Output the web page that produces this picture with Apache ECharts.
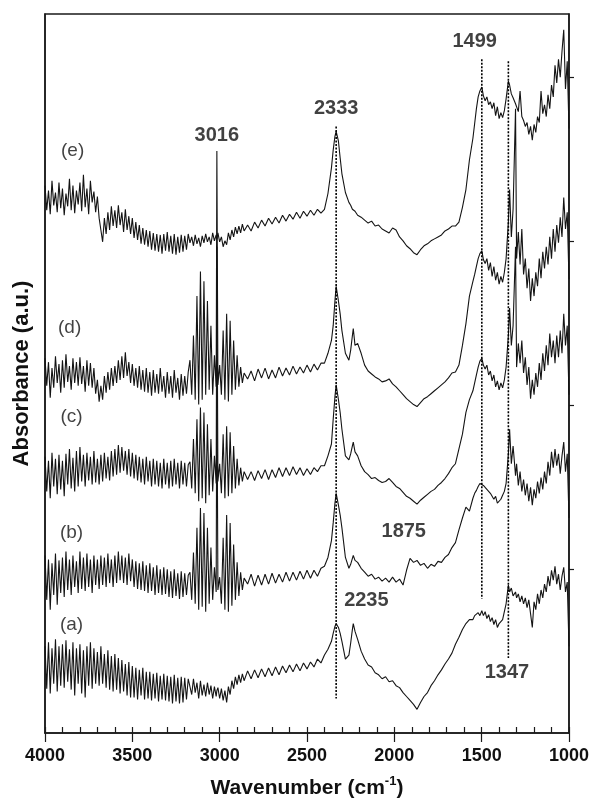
<!DOCTYPE html>
<html>
<head>
<meta charset="utf-8">
<title>IR spectra</title>
<script src="https://cdn.jsdelivr.net/npm/echarts@6/dist/echarts.min.js"></script>
<style>
  html, body { margin: 0; padding: 0; background: #ffffff; }
  #chart { width: 592px; height: 806px; }
</style>
</head>
<body>
<div id="chart"></div>
<script>
// Wavenumber grid (cm-1), shared by all five spectra.
const wavenumber = [
  4000, 3990, 3980, 3970, 3960, 3950, 3940, 3930, 3920, 3910,
  3900, 3890, 3880, 3870, 3860, 3850, 3840, 3830, 3820, 3810,
  3800, 3790, 3780, 3770, 3760, 3750, 3740, 3730, 3720, 3710,
  3700, 3690, 3680, 3670, 3660, 3650, 3640, 3630, 3620, 3610,
  3600, 3590, 3580, 3570, 3560, 3550, 3540, 3530, 3520, 3510,
  3500, 3490, 3480, 3470, 3460, 3450, 3440, 3430, 3420, 3410,
  3400, 3390, 3380, 3370, 3360, 3350, 3340, 3330, 3320, 3310,
  3300, 3290, 3280, 3270, 3260, 3250, 3240, 3230, 3220, 3210,
  3200, 3190, 3180,
  3170, 3160, 3150, 3140, 3130, 3120, 3110, 3100, 3090, 3080, 3070, 3060, 3050, 3040, 3030, 3020, 3016, 3010, 3000, 2990, 2980,
  2970, 2960, 2950, 2940, 2930, 2920, 2910, 2900, 2890, 2880, 2870, 2860,
  2840, 2820, 2800, 2780, 2760, 2740, 2720, 2700, 2680, 2660, 2640, 2620, 2600, 2580, 2560, 2540, 2520, 2500, 2480, 2460, 2440, 2420,
  2400, 2380, 2360, 2350, 2340, 2333, 2320, 2310, 2300, 2280, 2260, 2250, 2240, 2235, 2225, 2210, 2190,
  2170, 2150, 2130, 2110, 2090, 2070, 2050, 2030, 2010, 1990, 1970, 1950, 1930, 1910, 1890, 1870, 1850, 1830, 1810, 1790, 1770,
  1750, 1730, 1710, 1690, 1670, 1650, 1630, 1610, 1590, 1570,
  1550, 1540, 1530, 1520, 1510, 1499, 1490, 1480, 1470, 1460, 1450, 1440, 1430, 1420, 1410, 1400, 1390, 1380, 1370, 1360, 1347,
  1340, 1330, 1320, 1306, 1300, 1290, 1280, 1270, 1260, 1250, 1240, 1230, 1220, 1210, 1200, 1190, 1180, 1170, 1160, 1150, 1140,
  1130, 1120, 1110, 1100, 1090, 1080, 1070, 1060, 1050, 1040, 1030, 1020, 1010, 1000
];

// Absorbance (a.u., stacked) of each spectrum on the grid above.
const spectrumA = [
  0.88, 0.45, 0.92, 0.40, 0.86, 0.50, 0.95, 0.42, 0.88, 0.48,
  0.90, 0.46, 0.94, 0.52, 0.85, 0.44, 0.92, 0.38, 0.86, 0.50,
  0.90, 0.40, 0.84, 0.36, 0.88, 0.48, 0.92, 0.45, 0.86, 0.50,
  0.82, 0.48, 0.88, 0.50, 0.80, 0.46, 0.84, 0.44, 0.78, 0.42,
  0.80, 0.44, 0.76, 0.40, 0.74, 0.42, 0.70, 0.38, 0.72, 0.36,
  0.68, 0.36, 0.66, 0.34, 0.64, 0.38, 0.66, 0.34, 0.62, 0.35,
  0.62, 0.33, 0.60, 0.35, 0.61, 0.32, 0.58, 0.34, 0.60, 0.33,
  0.58, 0.32, 0.57, 0.30, 0.59, 0.32, 0.56, 0.30, 0.57, 0.31,
  0.56, 0.34, 0.55,
  0.53, 0.39, 0.55, 0.41, 0.51, 0.35, 0.53, 0.38, 0.49, 0.37, 0.51, 0.39, 0.48, 0.35, 0.47, 0.37, 0.43, 0.46, 0.35, 0.45, 0.33,
  0.43, 0.31, 0.47, 0.39, 0.53, 0.45, 0.57, 0.49, 0.59, 0.51, 0.60, 0.53,
  0.63, 0.55, 0.64, 0.56, 0.65, 0.57, 0.66, 0.58, 0.67, 0.59, 0.68, 0.61, 0.69, 0.62, 0.70, 0.63, 0.71, 0.65, 0.72, 0.67, 0.75, 0.71,
  0.79, 0.85, 0.93, 1.01, 1.08, 1.11, 1.07, 1.01, 0.93, 0.75, 0.79, 0.91, 1.05, 1.11, 1.03, 0.95, 0.83,
  0.75, 0.69, 0.67, 0.61, 0.59, 0.55, 0.57, 0.52, 0.53, 0.48, 0.46, 0.41, 0.37, 0.33, 0.29, 0.24, 0.31, 0.37, 0.41, 0.48, 0.53,
  0.59, 0.64, 0.70, 0.75, 0.81, 0.90, 0.97, 1.05, 1.11, 1.15,
  1.15, 1.19, 1.17, 1.22, 1.19, 1.24, 1.19, 1.23, 1.16, 1.20, 1.13, 1.17, 1.10, 1.15, 1.07, 1.11, 1.13, 1.15, 1.23, 1.31, 1.50,
  1.43, 1.47, 1.39, 1.43, 1.37, 1.41, 1.33, 1.39, 1.31, 1.37, 1.27, 1.35, 1.21, 1.07, 1.33, 1.25, 1.41, 1.31, 1.45, 1.37, 1.51,
  1.43, 1.59, 1.49, 1.65, 1.55, 1.69, 1.51, 1.61, 1.45, 1.59, 1.68, 1.43, 1.53, 0.88
];
const spectrumB = [
  1.80, 1.35, 1.76, 1.25, 1.72, 1.40, 1.82, 1.30, 1.75, 1.42,
  1.78, 1.38, 1.84, 1.45, 1.76, 1.40, 1.80, 1.48, 1.74, 1.42,
  1.84, 1.46, 1.78, 1.44, 1.82, 1.48, 1.76, 1.42, 1.80, 1.50,
  1.76, 1.46, 1.80, 1.50, 1.78, 1.48, 1.82, 1.52, 1.76, 1.48,
  1.80, 1.52, 1.84, 1.55, 1.80, 1.52, 1.78, 1.50, 1.82, 1.54,
  1.76, 1.48, 1.74, 1.46, 1.72, 1.45, 1.74, 1.44, 1.70, 1.42,
  1.72, 1.44, 1.68, 1.40, 1.70, 1.42, 1.66, 1.40, 1.68, 1.41,
  1.66, 1.38, 1.64, 1.37, 1.66, 1.39, 1.62, 1.36, 1.64, 1.38,
  1.62, 1.40, 1.60,
  1.63, 1.35, 1.83, 1.31, 2.08, 1.25, 2.28, 1.28, 2.23, 1.23, 2.08, 1.31, 1.88, 1.35, 1.68, 1.43, 3.78, 1.45, 1.58, 1.31, 1.98,
  1.25, 2.21, 1.23, 2.13, 1.29, 1.91, 1.35, 1.73, 1.39, 1.63, 1.45, 1.57,
  1.51, 1.61, 1.49, 1.60, 1.50, 1.61, 1.51, 1.62, 1.52, 1.61, 1.53, 1.63, 1.54, 1.63, 1.55, 1.64, 1.56, 1.65, 1.57, 1.65, 1.59, 1.67,
  1.69, 1.78, 1.95, 2.13, 2.33, 2.43, 2.31, 2.21, 2.08, 1.78, 1.67, 1.71, 1.77, 1.80, 1.75, 1.73, 1.67,
  1.63, 1.59, 1.61, 1.56, 1.58, 1.54, 1.57, 1.53, 1.58, 1.53, 1.56, 1.50, 1.65, 1.77, 1.73, 1.75, 1.70, 1.72, 1.67, 1.71, 1.69,
  1.74, 1.73, 1.78, 1.81, 1.88, 1.93, 2.06, 2.18, 2.29, 2.25,
  2.38, 2.43, 2.46, 2.50, 2.53, 2.55, 2.51, 2.53, 2.47, 2.49, 2.43, 2.45, 2.37, 2.40, 2.33, 2.31, 2.37, 2.41, 2.45, 2.53, 2.83,
  3.08, 2.73, 2.91, 2.61, 2.73, 2.51, 2.65, 2.45, 2.57, 2.41, 2.53, 2.35, 2.49, 2.31, 2.47, 2.38, 2.55, 2.43, 2.59, 2.47, 2.65,
  2.53, 2.75, 2.61, 2.85, 2.69, 2.88, 2.71, 2.83, 2.63, 2.81, 2.95, 2.65, 2.83, 2.18
];
const spectrumC = [
  2.80, 2.45, 2.76, 2.38, 2.84, 2.50, 2.78, 2.42, 2.82, 2.47,
  2.76, 2.40, 2.83, 2.52, 2.88, 2.48, 2.79, 2.45, 2.86, 2.50,
  2.90, 2.55, 2.82, 2.50, 2.84, 2.56, 2.80, 2.52, 2.86, 2.54,
  2.78, 2.52, 2.82, 2.55, 2.84, 2.58, 2.80, 2.56, 2.86, 2.60,
  2.88, 2.62, 2.92, 2.64, 2.90, 2.66, 2.86, 2.62, 2.88, 2.60,
  2.84, 2.58, 2.82, 2.56, 2.80, 2.54, 2.78, 2.52, 2.80, 2.55,
  2.76, 2.50, 2.78, 2.52, 2.76, 2.50, 2.74, 2.48, 2.78, 2.52,
  2.74, 2.48, 2.76, 2.50, 2.78, 2.52, 2.74, 2.48, 2.76, 2.52,
  2.74, 2.50, 2.72,
  2.75, 2.48, 2.98, 2.43, 3.18, 2.35, 3.30, 2.38, 3.25, 2.33, 3.13, 2.41, 2.98, 2.45, 2.81, 2.53, 4.93, 2.55, 2.73, 2.43, 3.03,
  2.38, 3.11, 2.40, 3.05, 2.43, 2.91, 2.48, 2.78, 2.51, 2.69, 2.55, 2.65,
  2.57, 2.65, 2.56, 2.66, 2.58, 2.67, 2.57, 2.67, 2.59, 2.69, 2.60, 2.69, 2.61, 2.70, 2.62, 2.69, 2.61, 2.68, 2.62, 2.69, 2.65, 2.71,
  2.71, 2.81, 2.93, 3.18, 3.41, 3.53, 3.38, 3.25, 3.08, 2.81, 2.77, 2.83, 2.91, 2.95, 2.85, 2.81, 2.71,
  2.65, 2.62, 2.58, 2.59, 2.56, 2.54, 2.55, 2.58, 2.54, 2.50, 2.48, 2.44, 2.40, 2.38, 2.35, 2.32, 2.36, 2.39, 2.42, 2.45, 2.47,
  2.51, 2.54, 2.58, 2.63, 2.69, 2.73, 2.88, 3.03, 3.25, 3.38,
  3.47, 3.55, 3.63, 3.71, 3.77, 3.80, 3.73, 3.69, 3.73, 3.63, 3.67, 3.57, 3.63, 3.51, 3.57, 3.48, 3.55, 3.50, 3.58, 3.71, 4.03,
  4.31, 3.93, 4.13, 4.93, 3.71, 3.95, 3.75, 3.98, 3.65, 3.81, 3.53, 3.71, 3.39, 3.58, 3.43, 3.65, 3.51, 3.75, 3.58, 3.85, 3.67,
  3.93, 3.73, 4.05, 3.81, 3.98, 3.75, 4.03, 3.81, 4.08, 3.85, 4.25, 3.93, 4.13, 3.43
];
const spectrumD = [
  3.80, 3.52, 3.76, 3.40, 3.70, 3.50, 3.82, 3.55, 3.74, 3.45,
  3.78, 3.50, 3.84, 3.56, 3.72, 3.48, 3.80, 3.55, 3.76, 3.52,
  3.81, 3.54, 3.72, 3.46, 3.78, 3.52, 3.75, 3.50, 3.70, 3.44,
  3.58, 3.36, 3.52, 3.38, 3.62, 3.45, 3.66, 3.48, 3.70, 3.52,
  3.72, 3.55, 3.78, 3.58, 3.82, 3.60, 3.86, 3.62, 3.76, 3.55,
  3.74, 3.52, 3.70, 3.50, 3.72, 3.48, 3.68, 3.46, 3.70, 3.45,
  3.66, 3.42, 3.68, 3.45, 3.64, 3.44, 3.70, 3.46, 3.62, 3.40,
  3.66, 3.44, 3.62, 3.40, 3.68, 3.45, 3.60, 3.38, 3.64, 3.42,
  3.62, 3.44, 3.66,
  3.78, 3.43, 4.03, 3.38, 4.43, 3.33, 4.68, 3.38, 4.58, 3.43, 4.38, 3.48, 4.13, 3.43, 3.83, 3.51, 5.90, 3.53, 3.73, 3.43, 4.08,
  3.38, 4.25, 3.36, 4.18, 3.43, 3.98, 3.48, 3.83, 3.51, 3.71, 3.55, 3.65,
  3.59, 3.67, 3.57, 3.69, 3.60, 3.70, 3.59, 3.68, 3.60, 3.71, 3.62, 3.70, 3.63, 3.72, 3.64, 3.71, 3.65, 3.73, 3.66, 3.74, 3.68, 3.75,
  3.75, 3.85, 3.98, 4.13, 4.38, 4.53, 4.38, 4.25, 4.08, 3.85, 3.78, 3.88, 4.03, 4.10, 3.93, 3.95, 3.85,
  3.73, 3.67, 3.64, 3.61, 3.59, 3.56, 3.57, 3.59, 3.54, 3.51, 3.47, 3.43, 3.39, 3.36, 3.33, 3.31, 3.35, 3.39, 3.41, 3.44, 3.47,
  3.50, 3.53, 3.56, 3.60, 3.65, 3.66, 3.73, 3.93, 4.15, 4.43,
  4.58, 4.65, 4.73, 4.81, 4.86, 4.89, 4.80, 4.76, 4.81, 4.69, 4.77, 4.63, 4.73, 4.59, 4.67, 4.55, 4.63, 4.57, 4.67, 4.81, 5.18,
  5.51, 5.03, 5.31, 6.33, 4.81, 5.08, 4.75, 5.11, 4.65, 4.81, 4.51, 4.71, 4.38, 4.61, 4.43, 4.67, 4.53, 4.81, 4.61, 4.88, 4.71,
  4.93, 4.75, 5.03, 4.81, 5.11, 4.88, 5.15, 4.97, 5.23, 5.03, 5.43, 5.11, 5.28, 4.60
];
const spectrumE = [
  5.55, 5.30, 5.50, 5.26, 5.60, 5.35, 5.48, 5.28, 5.58, 5.32,
  5.52, 5.25, 5.47, 5.34, 5.62, 5.30, 5.55, 5.27, 5.50, 5.36,
  5.58, 5.29, 5.66, 5.33, 5.52, 5.26, 5.60, 5.38, 5.49, 5.28,
  5.44, 5.22, 5.10, 4.98, 5.22, 5.06, 5.28, 5.10, 5.34, 5.14,
  5.30, 5.12, 5.35, 5.15, 5.28, 5.08, 5.31, 5.10, 5.24, 5.06,
  5.22, 5.02, 5.18, 5.00, 5.15, 4.96, 5.12, 4.95, 5.10, 4.93,
  5.09, 4.90, 5.07, 4.89, 5.06, 4.88, 5.05, 4.86, 5.06, 4.89,
  5.08, 4.88, 5.04, 4.86, 5.06, 4.85, 5.03, 4.87, 5.05, 4.88,
  5.04, 4.90, 5.06,
  4.97, 5.03, 4.94, 5.05, 4.96, 5.02, 4.93, 5.04, 4.97, 5.06, 4.98, 5.03, 4.95, 5.07, 4.99, 5.05, 5.01, 5.07, 4.98, 5.03, 4.93,
  4.99, 4.95, 5.07, 5.00, 5.10, 5.03, 5.13, 5.06, 5.14, 5.07, 5.16, 5.09,
  5.15, 5.09, 5.18, 5.12, 5.20, 5.14, 5.22, 5.16, 5.23, 5.17, 5.25, 5.19, 5.26, 5.21, 5.28, 5.22, 5.29, 5.24, 5.30, 5.25, 5.31, 5.27,
  5.31, 5.47, 5.73, 5.91, 6.05, 6.10, 6.00, 5.83, 5.67, 5.48, 5.38, 5.35, 5.31, 5.30, 5.29, 5.25, 5.23,
  5.20, 5.17, 5.19, 5.14, 5.15, 5.11, 5.09, 5.07, 5.12, 5.10, 5.03, 4.99, 4.94, 4.91, 4.87, 4.85, 4.90, 4.94, 4.96, 4.99, 5.01,
  5.03, 5.05, 5.09, 5.11, 5.14, 5.14, 5.18, 5.33, 5.51, 5.81,
  6.03, 6.18, 6.33, 6.45, 6.51, 6.55, 6.46, 6.41, 6.45, 6.37, 6.40, 6.33, 6.39, 6.26, 6.35, 6.23, 6.29, 6.24, 6.31, 6.43, 6.61,
  6.57, 6.48, 6.44, 6.38, 6.35, 6.30, 6.51, 6.25, 6.21, 6.15, 6.19, 6.07, 6.15, 6.01, 6.17, 6.09, 6.25, 6.19, 6.51, 6.28, 6.37,
  6.25, 6.47, 6.33, 6.57, 6.45, 6.77, 6.59, 6.83, 6.65, 6.91, 7.13, 6.53, 6.81, 6.13
];

// Band positions marked by dotted guides, with the absorbance span each guide covers.
const guideWavenumbers = [2333, 1499, 1347];
const guideTop = [6.15, 6.83, 6.81];
const guideBottom = [0.35, 1.36, 0.76];

// Band annotations: text, wavenumber, absorbance where the text sits.
const bandText = ['3016', '2333', '1499', '1875', '2235', '1347'];
const bandTextWn = [3016, 2333, 1540, 1946, 2160, 1355];
const bandTextAbs = [6.06, 6.33, 7.01, 2.04, 1.34, 0.61];

// Spectrum tags.
const tagText = ['(e)', '(d)', '(c)', '(b)', '(a)'];
const tagWn = [3842, 3859, 3848, 3848, 3848];
const tagAbs = [5.90, 4.11, 3.21, 2.03, 1.10];

// Axis ticks.
const xTickLabels = [4000, 3500, 3000, 2500, 2000, 1500, 1000];
const yTickValues = [1.663, 3.326, 4.989, 6.652];

const spectra = [spectrumA, spectrumB, spectrumC, spectrumD, spectrumE];

const FONT = '"Liberation Sans", Arial, Helvetica, sans-serif';
const INK = '#111111';

const chart = echarts.init(document.getElementById('chart'), null, { renderer: 'canvas' });

const series = [];

spectra.forEach(function (values) {
  series.push({
    type: 'line',
    data: wavenumber.map(function (w, i) { return [w, values[i]]; }),
    showSymbol: false,
    symbol: 'none',
    lineStyle: { color: '#141414', width: 1.1 },
    silent: true,
    z: 3
  });
});

guideWavenumbers.forEach(function (w, i) {
  series.push({
    type: 'line',
    data: [[w, guideTop[i]], [w, guideBottom[i]]],
    showSymbol: false,
    symbol: 'none',
    lineStyle: { color: '#000000', width: 1.6, type: [2, 1.5] },
    silent: true,
    z: 4
  });
});

series.push({
  type: 'scatter',
  data: bandText.map(function (t, i) { return [bandTextWn[i], bandTextAbs[i], t]; }),
  symbolSize: 1,
  itemStyle: { color: 'rgba(0,0,0,0)' },
  label: {
    show: true,
    position: 'inside',
    formatter: function (p) { return p.data[2]; },
    fontFamily: FONT,
    fontWeight: 'bold',
    fontSize: 20,
    color: INK
  },
  silent: true,
  z: 5
});

series.push({
  type: 'scatter',
  data: tagText.map(function (t, i) { return [tagWn[i], tagAbs[i], t]; }),
  symbolSize: 1,
  itemStyle: { color: 'rgba(0,0,0,0)' },
  label: {
    show: true,
    position: 'inside',
    formatter: function (p) { return p.data[2]; },
    fontFamily: FONT,
    fontWeight: 'normal',
    fontSize: 19,
    color: INK
  },
  silent: true,
  z: 5
});

chart.setOption({
  animation: false,
  backgroundColor: '#ffffff',
  grid: {
    left: 45, right: 14, top: 14, bottom: 63,
    show: true, borderColor: '#1a1a1a', borderWidth: 1.5,
    containLabel: false
  },
  xAxis: [
    {
      type: 'value', min: 1000, max: 4000, interval: 100, inverse: true, position: 'bottom',
      axisLine: { show: true, lineStyle: { color: '#1a1a1a', width: 1.5 } },
      axisTick: { show: true, inside: true, length: 6, lineStyle: { color: '#1a1a1a', width: 1.2 } },
      axisLabel: { show: false },
      splitLine: { show: false },
      name: 'Wavenumber (cm{sup|-1})',
      nameLocation: 'middle',
      nameGap: 42,
      nameTextStyle: {
        fontFamily: FONT, fontWeight: 'bold', fontSize: 21, color: INK, lineHeight: 26,
        rich: {
          sup: { fontFamily: FONT, fontWeight: 'bold', fontSize: 13, color: INK, verticalAlign: 'top', lineHeight: 26 }
        }
      }
    },
    {
      type: 'value', min: 1000, max: 4000, interval: 500, inverse: true, position: 'bottom',
      axisLine: { show: false },
      axisTick: { show: true, inside: false, length: 9, lineStyle: { color: '#1a1a1a', width: 1.2 } },
      axisLabel: {
        show: true, margin: 14,
        formatter: function (v) { return xTickLabels.indexOf(v) >= 0 ? String(v) : ''; },
        fontFamily: FONT, fontWeight: 'bold', fontSize: 18, color: INK
      },
      splitLine: { show: false }
    }
  ],
  yAxis: [
    {
      type: 'value', min: 0, max: 7.29, interval: 1.663, position: 'right',
      axisLine: { show: true, lineStyle: { color: '#1a1a1a', width: 1.5 } },
      axisTick: { show: true, inside: false, length: 5, customValues: yTickValues, lineStyle: { color: '#1a1a1a', width: 1.2 } },
      axisLabel: { show: false },
      splitLine: { show: false }
    },
    {
      type: 'value', min: 0, max: 7.29, position: 'left',
      axisLine: { show: true, lineStyle: { color: '#1a1a1a', width: 1.5 } },
      axisTick: { show: false },
      axisLabel: { show: false },
      splitLine: { show: false },
      name: 'Absorbance (a.u.)',
      nameLocation: 'middle',
      nameRotate: 90,
      nameGap: 12,
      nameTextStyle: { fontFamily: FONT, fontWeight: 'bold', fontSize: 22, color: INK }
    }
  ],
  series: series
});
</script>
</body>
</html>
